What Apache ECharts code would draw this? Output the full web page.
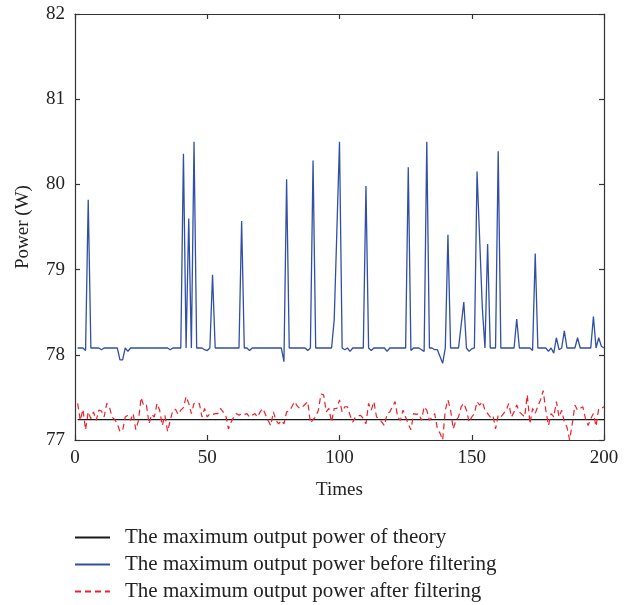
<!DOCTYPE html>
<html>
<head>
<meta charset="utf-8">
<script src="https://cdn.jsdelivr.net/npm/echarts@6/dist/echarts.min.js"></script>
<style>html,body{margin:0;padding:0;background:#fff}#c{width:633px;height:605px}</style>
</head>
<body>
<div id="c"></div>
<script>
var xTicks = [0, 50, 100, 150, 200];
var yTicks = [77, 78, 79, 80, 81, 82];
var seriesNames = ['The maximum output power of theory', 'The maximum output power before filtering', 'The maximum output power after filtering'];
var theoryTimes = [1, 200];
var theoryValues = [77.24, 77.24];
var beforeValues = [
78.08,78.08,78.08,78.05,79.82,78.08,78.08,78.08,78.08,78.06,
78.08,78.08,78.08,78.08,78.08,78.08,77.94,77.94,78.08,78.04,
78.08,78.08,78.08,78.08,78.08,78.08,78.08,78.08,78.08,78.08,
78.08,78.08,78.08,78.08,78.08,78.06,78.08,78.08,78.08,78.08,
80.36,78.08,79.60,78.08,80.50,78.08,78.08,78.08,78.06,78.05,
78.08,78.94,78.08,78.08,78.08,78.08,78.08,78.08,78.08,78.08,
78.08,78.08,79.57,78.08,78.08,78.05,78.08,78.08,78.08,78.08,
78.08,78.08,78.08,78.08,78.08,78.08,78.08,78.08,77.92,80.06,
78.08,78.08,78.08,78.08,78.08,78.08,78.08,78.05,78.08,80.28,
78.08,78.08,78.08,78.08,78.08,78.08,78.08,78.41,79.45,80.50,
78.08,78.06,78.08,78.04,78.08,78.08,78.08,78.08,78.08,79.98,
78.08,78.05,78.08,78.08,78.08,78.08,78.08,78.04,78.08,78.08,
78.08,78.08,78.08,78.08,78.08,80.20,78.05,78.08,78.08,78.08,
78.06,78.04,80.50,78.08,78.08,78.06,78.06,77.98,77.90,78.08,
79.41,78.08,78.08,78.08,78.08,78.35,78.62,78.08,78.04,78.07,
78.08,80.15,79.35,78.55,78.08,79.30,78.08,78.08,78.08,80.39,
78.08,78.08,78.08,78.08,78.08,78.08,78.42,78.08,78.08,78.08,
78.08,78.08,78.05,79.19,78.08,78.08,78.08,78.08,78.04,78.08,
78.02,78.20,78.06,78.08,78.28,78.08,78.08,78.08,78.08,78.20,
78.08,78.08,78.08,78.08,78.08,78.45,78.08,78.20,78.10,78.08
];
var afterValues = [
77.43,77.23,77.36,77.12,77.33,77.25,77.33,77.23,77.35,77.34,
77.27,77.43,77.39,77.27,77.24,77.19,77.10,77.11,77.27,77.29,
77.23,77.31,77.12,77.23,77.50,77.40,77.41,77.19,77.30,77.27,
77.43,77.35,77.17,77.29,77.10,77.23,77.35,77.36,77.30,77.35,
77.38,77.51,77.43,77.31,77.43,77.42,77.43,77.27,77.37,77.27,
77.31,77.30,77.31,77.31,77.37,77.33,77.29,77.13,77.21,77.27,
77.31,77.29,77.31,77.30,77.31,77.27,77.29,77.31,77.27,77.33,
77.37,77.30,77.23,77.17,77.33,77.23,77.19,77.23,77.19,77.33,
77.34,77.39,77.45,77.40,77.37,77.39,77.42,77.45,77.20,77.24,
77.27,77.35,77.54,77.53,77.33,77.37,77.21,77.37,77.37,77.47,
77.33,77.39,77.39,77.29,77.21,77.27,77.28,77.29,77.25,77.19,
77.43,77.35,77.45,77.27,77.25,77.21,77.17,77.31,77.33,77.39,
77.45,77.27,77.23,77.35,77.27,77.19,77.12,77.31,77.30,77.31,
77.23,77.39,77.35,77.23,77.27,77.31,77.13,77.08,77.00,77.35,
77.47,77.35,77.13,77.23,77.27,77.39,77.43,77.35,77.21,77.27,
77.31,77.45,77.41,77.45,77.35,77.31,77.27,77.29,77.13,77.29,
77.27,77.31,77.35,77.43,77.27,77.33,77.41,77.33,77.30,77.27,
77.53,77.19,77.37,77.31,77.40,77.47,77.58,77.35,77.17,77.31,
77.27,77.45,77.27,77.35,77.21,77.15,77.00,77.19,77.41,77.35,
77.37,77.39,77.25,77.17,77.25,77.31,77.16,77.37,77.37,77.39
];

function pairs(xs, ys) { var out = []; for (var i = 0; i < ys.length; i++) out.push([xs[i], ys[i]]); return out; }
var times = []; for (var i = 0; i < beforeValues.length; i++) times.push(i + 1);

var FONT = 'Liberation Serif';
var axisCol = '#333';
function xAx(pos, labels) {
  return {
    type: 'value', position: pos, min: xTicks[0], max: xTicks[xTicks.length - 1], interval: 50,
    axisLine: { show: true, onZero: false, lineStyle: { color: axisCol, width: 1.2 } },
    axisTick: { show: true, inside: true, length: 5, lineStyle: { color: axisCol, width: 1.2 } },
    axisLabel: { show: labels, fontFamily: FONT, fontSize: 19, color: '#222', margin: 9 },
    splitLine: { show: false },
    name: labels ? 'Times' : '', nameLocation: 'middle', nameGap: 41,
    nameTextStyle: { fontFamily: FONT, fontSize: 19, color: '#222' }
  };
}
function yAx(pos, labels) {
  return {
    type: 'value', position: pos, min: yTicks[0], max: yTicks[yTicks.length - 1], interval: 1,
    axisLine: { show: true, onZero: false, lineStyle: { color: axisCol, width: 1.2 } },
    axisTick: { show: true, inside: true, length: 5, lineStyle: { color: axisCol, width: 1.2 } },
    axisLabel: { show: labels, fontFamily: FONT, fontSize: 19, color: '#222', margin: 10 },
    splitLine: { show: false },
    name: labels ? 'Power (W)' : '', nameLocation: 'middle', nameGap: 42,
    nameTextStyle: { fontFamily: FONT, fontSize: 19, color: '#222' }
  };
}

var chart = echarts.init(document.getElementById('c'), null, { renderer: 'canvas' });
chart.setOption({
  animation: false,
  backgroundColor: '#fff',
  grid: { left: 75, right: 29, top: 14, bottom: 165 },
  xAxis: [xAx('bottom', true), xAx('top', false)],
  yAxis: [yAx('left', true), yAx('right', false)],
  legend: {
    orient: 'vertical', left: 69, top: 521, height: 84, itemWidth: 35, itemHeight: 2, itemGap: 4,
    itemStyle: { opacity: 0 },
    data: seriesNames,
    textStyle: { fontFamily: FONT, fontSize: 21, color: '#222', padding: [0, 0, 0, 10], lineHeight: 23 }
  },
  series: [
    { name: seriesNames[0], type: 'line', data: pairs(theoryTimes, theoryValues), showSymbol: false, symbol: 'none',
      lineStyle: { color: '#1a1a1a', width: 1.3 }, itemStyle: { color: '#1a1a1a' }, z: 3 },
    { name: seriesNames[1], type: 'line', data: pairs(times, beforeValues), showSymbol: false, symbol: 'none',
      lineStyle: { color: '#2f4fa8', width: 1.3 }, itemStyle: { color: '#2f4fa8' }, z: 2 },
    { name: seriesNames[2], type: 'line', data: pairs(times, afterValues), showSymbol: false, symbol: 'none',
      lineStyle: { color: '#f0202a', width: 1.2, type: [6, 4] }, itemStyle: { color: '#f0202a' }, z: 4 }
  ]
});
</script>
</body>
</html>
